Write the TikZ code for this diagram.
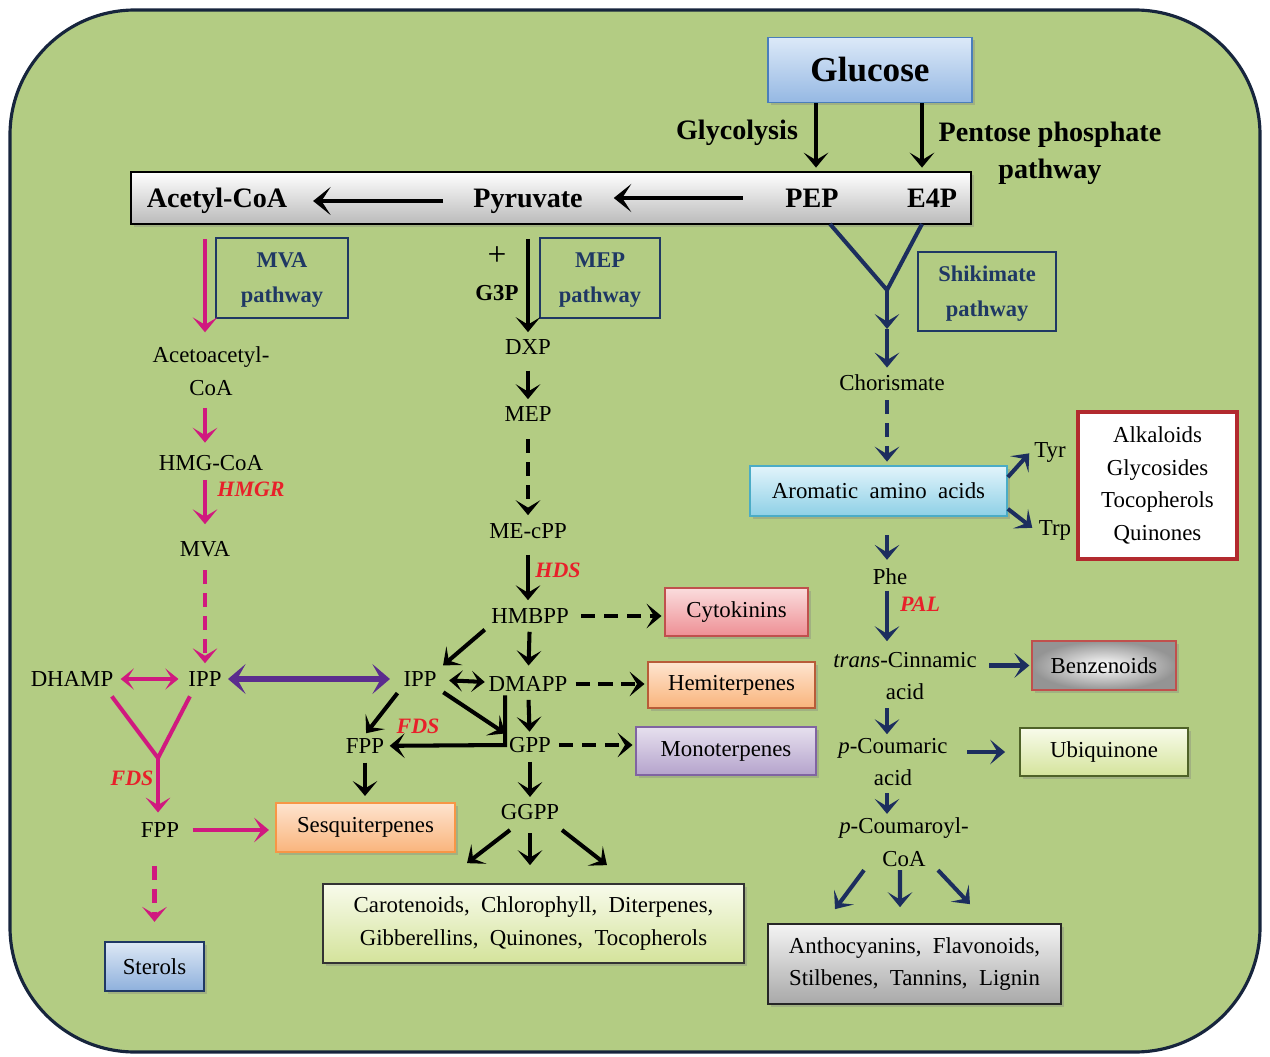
\documentclass[tikz,border=0pt]{standalone}
\usepackage{fontspec}
\setmainfont{Liberation Serif}
\usetikzlibrary{arrows.meta,shadows}
\definecolor{leaf}{HTML}{B3CC83}
\definecolor{frame}{HTML}{17253D}
\definecolor{mvapink}{HTML}{D0197F}
\definecolor{shknavy}{HTML}{1C2E5E}
\definecolor{ipppurple}{HTML}{5B2D8E}
\definecolor{enzred}{HTML}{E8202A}
\definecolor{pathnavy}{HTML}{1F3864}
\definecolor{glctop}{HTML}{DCE9F8}
\definecolor{glcbot}{HTML}{95B8E3}
\definecolor{glcedge}{HTML}{4A7EBB}
\definecolor{cytotop}{HTML}{FADCDD}
\definecolor{cytobot}{HTML}{EE8F94}
\definecolor{cytoedge}{HTML}{C0504D}
\definecolor{oratop}{HTML}{FEE4CF}
\definecolor{orabot}{HTML}{F9B47C}
\definecolor{hemiedge}{HTML}{B85C38}
\definecolor{sesqedge}{HTML}{F79646}
\definecolor{monotop}{HTML}{E6E0EE}
\definecolor{monobot}{HTML}{B5A3CC}
\definecolor{monoedge}{HTML}{8064A2}
\definecolor{limetop}{HTML}{F8FBEB}
\definecolor{limebot}{HTML}{D4E39B}
\definecolor{ubiqedge}{HTML}{4F6228}
\definecolor{stertop}{HTML}{DDE8F5}
\definecolor{sterbot}{HTML}{8EB0DC}
\definecolor{aromtop}{HTML}{E2F4FB}
\definecolor{arombot}{HTML}{8ED0E6}
\definecolor{aromedge}{HTML}{4BACC6}
\definecolor{greytop}{HTML}{F4F4F4}
\definecolor{greybot}{HTML}{A8A8A8}
\definecolor{alkedge}{HTML}{B22A2E}

\begin{document}
\begin{tikzpicture}[x=0.02cm,y=-0.02cm,
  txt/.style={font=\fontsize{13}{18.5}\selectfont,align=center,inner sep=2pt},
  hdr/.style={font=\fontsize{16}{21}\selectfont\bfseries,align=center,inner sep=2pt},
  enz/.style={font=\fontsize{12.5}{15}\selectfont\bfseries\itshape,text=enzred,inner sep=1pt},
  pathbox/.style={draw=pathnavy,line width=0.8pt,text=pathnavy,align=center,inner sep=0pt,text depth=0pt,font=\fontsize{12.8}{20}\selectfont\bfseries},
  prod/.style={draw,line width=1pt,align=center,inner sep=0pt,font=\fontsize{13}{18.5}\selectfont,
    drop shadow={shadow xshift=1.5pt,shadow yshift=-1.5pt,opacity=.35}},
  blkar/.style={-{Stealth[length=8.5pt,width=14pt,inset=4.2pt]},line width=2.3pt,black},
  barar/.style={-{Stealth[length=10pt,width=16pt,inset=5.2pt]},line width=2.8pt,black},
  bkdbl/.style={{Stealth[length=7.5pt,width=12pt,inset=3.8pt]}-{Stealth[length=7.5pt,width=12pt,inset=3.8pt]},line width=2.3pt,black},
  pkar/.style={blkar,mvapink},
  pkline/.style={line width=2.3pt,mvapink},
  pkdbl/.style={bkdbl,mvapink},
  ppdbl/.style={{Stealth[length=10pt,width=17pt,inset=4.8pt]}-{Stealth[length=10pt,width=17pt,inset=4.8pt]},line width=3.4pt,ipppurple},
  nvar/.style={blkar,shknavy},
  nvline/.style={line width=2.3pt,shknavy},
  dsh/.style={dash pattern=on 8pt off 5pt}]
  \useasboundingbox (0,0) rectangle (1270,1057);
  \draw[frame,line width=1.8pt,fill=leaf,rounded corners=2.5cm] (10,10) rectangle (1260,1052);

  % ===== glucose and the central bar =====
  \node[draw=glcedge,line width=1pt,top color=glctop,bottom color=glcbot,minimum width=4.08cm,minimum height=1.3cm,
    font=\fontsize{20}{24}\selectfont\bfseries,drop shadow={shadow xshift=1.5pt,shadow yshift=-1.5pt,opacity=.35}] (glc) at (870,70) {Glucose};
  \node[hdr] (glyc) at (737,133) {Glycolysis};
  \node[hdr] (ppp) at (1050,153) {Pentose phosphate\\pathway};
  \node[draw,line width=1pt,top color=white,bottom color=black!27,minimum width=16.8cm,minimum height=1.04cm,inner sep=0pt,
    drop shadow={shadow xshift=1.5pt,shadow yshift=-1.5pt,opacity=.35}] (bar) at (551,198) {};
  \node[hdr] (acoa) at (217,201) {Acetyl-CoA};
  \node[hdr] (pyr) at (528,201) {Pyruvate};
  \node[hdr] (pep) at (812,198) {PEP};
  \node[hdr] (e4p) at (932,198) {E4P};

  \draw[blkar,shorten >=2pt] ([xshift=-1.08cm]glc.south) -- ([xshift=-1.08cm]glc.south |- bar.north);
  \draw[blkar,shorten >=2pt] ([xshift=1.04cm]glc.south) -- ([xshift=1.04cm]glc.south |- bar.north);
  \draw[barar,shorten <=15pt,shorten >=12.5pt] (pyr) -- (acoa);
  \draw[barar,shorten <=22pt,shorten >=15.5pt] (pep) -- (pep -| pyr.east);

  % ===== MVA pathway =====
  \node[pathbox,minimum width=2.64cm,minimum height=1.6cm] (mvabox) at (282,278) {MVA\\pathway};
  \node[txt] (aca) at (211,371) {Acetoacetyl-\\CoA};
  \node[txt] (hmg) at (211,463) {HMG-CoA};
  \node[enz] (hmgr) at (251,489) {HMGR};
  \node[txt] (mva) at (205,549) {MVA};
  \node[txt] (ippL) at (205,679) {IPP};
  \node[txt] (dhamp) at (72,679) {DHAMP};
  \node[enz] (fdsL) at (132,778) {FDS};
  \node[txt] (fppL) at (160,830) {FPP};
  \node[prod,draw=pathnavy,top color=stertop,bottom color=sterbot,minimum width=1.98cm,minimum height=0.98cm] (ster) at (154.5,966.5) {Sterols};
  \node[prod,draw=sesqedge,top color=oratop,bottom color=orabot,minimum width=3.58cm,minimum height=0.98cm] (sesq) at (365.5,827.5) {Sesquiterpenes};
  \coordinate (ypk) at (158,758);

  \draw[pkar,shorten <=8pt,shorten >=6pt] (bar.south -| mva) -- (aca.north -| mva);
  \draw[pkar,shorten <=5pt,shorten >=5pt] (aca.south -| mva) -- (hmg.north -| mva);
  \draw[pkar,shorten <=3pt,shorten >=7.5pt] (hmg.south -| mva) -- (mva.north);
  \draw[pkar,dsh,shorten <=5.5pt,shorten >=2.5pt] (mva) -- (ippL);
  \draw[pkdbl,shorten <=2pt,shorten >=3.5pt] (dhamp) -- (ippL);
  \draw[pkline] ([xshift=-3pt,yshift=-3.4pt]dhamp.south east) -- (ypk) -- ([xshift=3pt,yshift=-3.4pt]ippL.south west);
  \draw[pkar,shorten >=3.5pt] (ypk) -- (ypk |- fppL.north);
  \draw[pkar,shorten <=5.5pt,shorten >=3.5pt] (fppL) -- (sesq.west |- fppL);
  \draw[pkar,dsh,shorten <=14pt,shorten >=11pt] (fppL.south -| ster) -- (ster.north);

  % ===== MEP pathway =====
  \node[pathbox,minimum width=2.4cm,minimum height=1.6cm] (mepbox) at (600,278) {MEP\\pathway};
  \node[txt,font=\fontsize{13}{20}\selectfont] (g3p) at (497,274) {{\fontsize{19}{20}\selectfont +}\\\textbf{G3P}};
  \node[txt] (dxp) at (528,347) {DXP};
  \node[txt] (mep) at (528,414) {MEP};
  \node[txt] (mecpp) at (528,531) {ME-cPP};
  \node[enz] (hds) at (558,570) {HDS};
  \node[txt] (hmbpp) at (530,616) {HMBPP};
  \node[txt] (dmapp) at (528,684) {DMAPP};
  \node[txt] (ippR) at (420,679) {IPP};
  \node[txt] (gpp) at (530,745) {GPP};
  \node[txt] (fppM) at (365,746) {FPP};
  \node[enz] (fdsM) at (418,726) {FDS};
  \node[txt] (ggpp) at (530,812) {GGPP};
  \node[prod,draw=cytoedge,top color=cytotop,bottom color=cytobot,minimum width=2.86cm,minimum height=0.96cm] (cyto) at (736.5,612) {Cytokinins};
  \node[prod,draw=hemiedge,top color=oratop,bottom color=orabot,minimum width=3.34cm,minimum height=0.92cm] (hemi) at (731.5,685) {Hemiterpenes};
  \node[prod,draw=monoedge,top color=monotop,bottom color=monobot,minimum width=3.6cm,minimum height=0.96cm] (mono) at (726,751) {Monoterpenes};
  \node[prod,draw=black!80,top color=limetop,bottom color=limebot,minimum width=8.42cm,minimum height=1.58cm] (carot) at (533.5,923.5)
    {Carotenoids,\enspace Chlorophyll,\enspace Diterpenes,\\Gibberellins,\enspace Quinones,\enspace Tocopherols};

  \draw[ppdbl,shorten <=1.5pt,shorten >=5.5pt] (ippL) -- (ippR);
  \draw[blkar,shorten <=8pt,shorten >=2pt] (bar.south -| dxp) -- (dxp);
  \draw[blkar,shorten <=7pt,shorten >=2pt] (dxp) -- (mep);
  \draw[blkar,dsh,shorten <=8pt,shorten >=2.5pt] (mep) -- (mecpp);
  \draw[blkar,shorten <=7pt,shorten >=2.5pt] (mecpp) -- (hmbpp.north -| mecpp);
  \draw[blkar,shorten <=2.5pt,shorten >=4pt] (hmbpp) -- (dmapp);
  \draw[blkar,shorten <=2.5pt,shorten >=1pt] (dmapp) -- (gpp);
  \draw[blkar,shorten <=3pt,shorten >=2pt] (gpp) -- (ggpp);
  \draw[blkar,dsh,shorten <=5pt,shorten >=1.5pt] (hmbpp) -- (cyto.west |- hmbpp);
  \draw[blkar,dsh,shorten <=2.5pt,shorten >=1.5pt] (dmapp) -- (hemi.west |- dmapp);
  \draw[blkar,dsh,shorten <=2.5pt,shorten >=1.5pt] (gpp) -- (mono.west |- gpp);
  \draw[blkar,shorten <=2pt,shorten >=2pt] (hmbpp.south west) -- (ippR.north east);
  \draw[bkdbl,shorten <=5pt] (ippR) -- (dmapp);
  \draw[blkar,shorten <=2pt] (ippR.south east) -- (gpp.north west);
  \draw[blkar,shorten >=1pt] (gpp.west |- dmapp.south) -- (gpp.west) -- (fppM);
  \draw[blkar,shorten <=2pt,shorten >=1pt] (ippR.south west) -- (fppM.north);
  \draw[blkar,shorten <=3pt,shorten >=3.5pt] (fppM) -- (fppM |- sesq.north);
  \draw[blkar] ([xshift=-0.4cm,yshift=-0.13cm]ggpp.south) -- ([xshift=-1.33cm,yshift=0.4cm]carot.north);
  \draw[blkar] ([yshift=-0.19cm]ggpp.south) -- ([yshift=0.36cm]ggpp.south |- carot.north);
  \draw[blkar] ([xshift=0.64cm,yshift=-0.13cm]ggpp.south) -- ([xshift=1.47cm,yshift=0.36cm]carot.north);

  % ===== shikimate pathway =====
  \node[pathbox,minimum width=2.76cm,minimum height=1.58cm] (shkbox) at (987,291.5) {Shikimate\\pathway};
  \node[txt] (chor) at (892,383) {Chorismate};
  \node[prod,draw=aromedge,top color=aromtop,bottom color=arombot,minimum width=5.14cm,minimum height=1cm] (arom) at (878.5,491)
    {Aromatic\enspace amino\enspace acids};
  \node[txt] (tyr) at (1050,452) {Tyr};
  \node[txt] (trp) at (1055,530) {Trp};
  \node[draw=alkedge,line width=2.3pt,fill=white,minimum width=3.18cm,minimum height=2.94cm,align=center,
    font=\fontsize{13}{18.6}\selectfont] (alk) at (1157.5,485.5) {Alkaloids\\Glycosides\\Tocopherols\\Quinones};
  \node[txt] (phe) at (890,577) {Phe};
  \node[enz] (pal) at (920,604) {PAL};
  \node[txt] (cin) at (905,676) {\textit{trans}-Cinnamic\\acid};
  \node[prod,draw=cytoedge,shading=radial,inner color=white,outer color=black!42,minimum width=2.88cm,minimum height=0.98cm] (benz) at (1104,665.5) {Benzenoids};
  \node[txt] (pcou) at (893,762) {\textit{p}-Coumaric\\acid};
  \node[prod,draw=ubiqedge,top color=limetop,bottom color=limebot,minimum width=3.36cm,minimum height=0.96cm] (ubiq) at (1104,752) {Ubiquinone};
  \node[txt] (pcoa) at (904,842) {\textit{p}-Coumaroyl-\\CoA};
  \node[prod,draw=black!85,top color=greytop,bottom color=greybot,minimum width=5.86cm,minimum height=1.6cm] (antho) at (914.5,964)
    {Anthocyanins,\enspace Flavonoids,\\Stilbenes,\enspace Tannins,\enspace Lignin};
  \coordinate (pepout) at (830,224);
  \coordinate (e4pout) at (922,224);
  \coordinate (shj) at (887,290);
  \coordinate (shk) at (887,329);

  \draw[nvline] (pepout) -- (shj) -- (e4pout);
  \draw[nvar] (shj) -- (shk);
  \draw[nvar,shorten >=2pt] (shk) -- (chor.north -| shj);
  \draw[nvar,dsh,shorten <=3pt,shorten >=2pt] (chor.south -| shj) -- (arom.north -| shj);
  \draw[nvar,shorten >=1pt] ([yshift=-0.24cm]arom.north east) -- (tyr.west);
  \draw[nvar,shorten >=2pt] ([yshift=0.16cm]arom.south east) -- (trp.west);
  \draw[nvar,shorten <=10.5pt,shorten >=3pt] (arom.south -| shj) -- (phe.north -| shj);
  \draw[nvar,shorten <=1pt,shorten >=4pt] (phe.south -| shj) -- (cin.north -| shj);
  \draw[nvar,shorten <=5pt,shorten >=1pt] (cin.east |- benz) -- (benz.west);
  \draw[nvar,shorten <=2.5pt] (cin.south -| shj) -- (pcou.north -| shj);
  \draw[nvar,shorten <=9pt,shorten >=8pt] (pcou.east |- ubiq) -- (ubiq.west);
  \draw[nvar,shorten <=2pt] (pcou.south -| shj) -- (pcoa.north -| shj);
  \draw[nvar] ([xshift=-0.8cm]pcoa.south) -- ([xshift=-1.59cm,yshift=0.28cm]antho.north);
  \draw[nvar] ([xshift=-0.08cm]pcoa.south) -- ([xshift=-0.29cm,yshift=0.32cm]antho.north);
  \draw[nvar] ([xshift=0.68cm]pcoa.south) -- ([xshift=1.11cm,yshift=0.38cm]antho.north);
\end{tikzpicture}
\end{document}
